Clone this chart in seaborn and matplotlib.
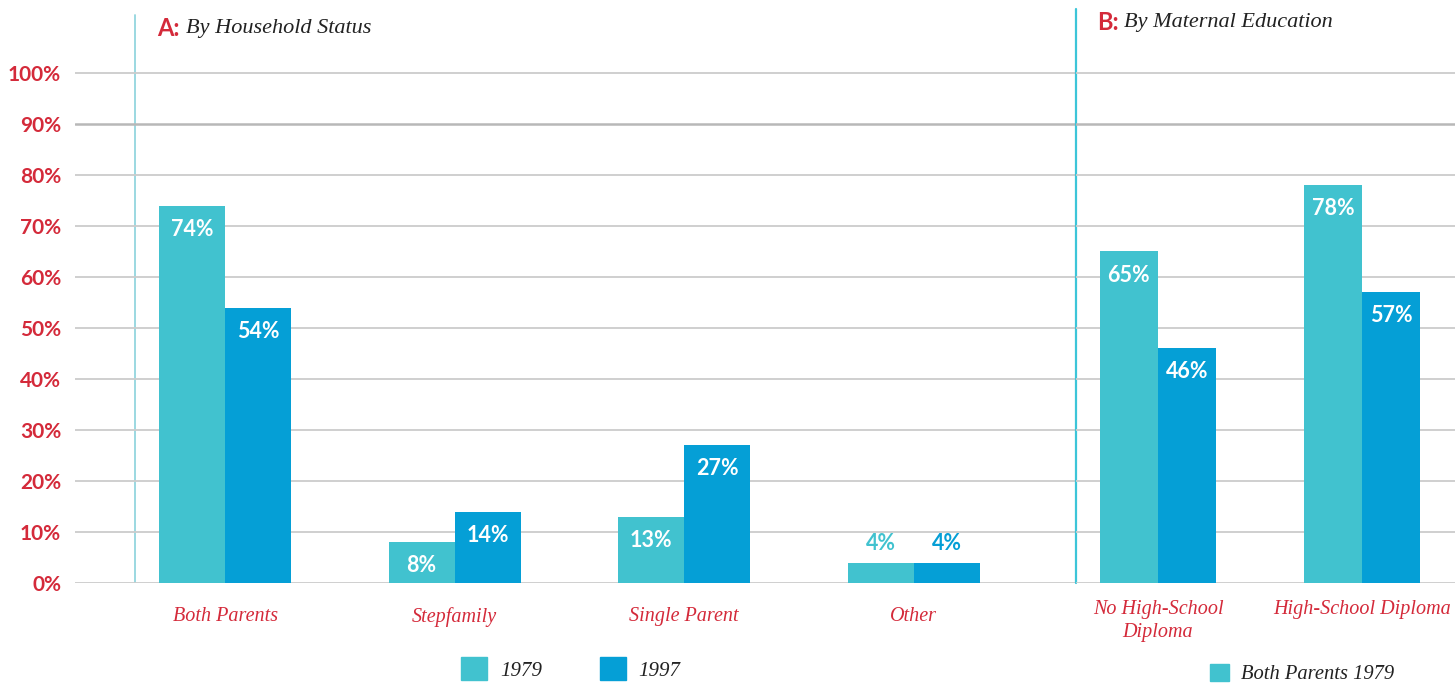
import matplotlib
matplotlib.use('Agg')
import matplotlib.pyplot as plt
import pandas as pd
import seaborn as sns
from matplotlib.patches import Patch

# data
years = ['1979', '1997']
household = ['Both Parents', 'Stepfamily', 'Single Parent', 'Other']
household_1979 = [74, 8, 13, 4]
household_1997 = [54, 14, 27, 4]
education = ['No High-School\nDiploma', 'High-School Diploma']
education_1979 = [65, 78]
education_1997 = [46, 57]
y_ticks = [0, 10, 20, 30, 40, 50, 60, 70, 80, 90, 100]

RED = '#d42a3a'
C79 = '#41c2cf'
C97 = '#059fd6'
GRID = '#cccccc'

sns.set_style('white')
plt.rcParams['font.family'] = ['Lato', 'DejaVu Sans']
SERIF = ['Liberation Serif', 'DejaVu Serif']


def long_df(groups, a, b):
    return pd.DataFrame({
        'group': groups * 2,
        'year': [years[0]] * len(groups) + [years[1]] * len(groups),
        'value': a + b,
    })


df_a = long_df(household, household_1979, household_1997)
df_b = long_df(education, education_1979, education_1997)

fig = plt.figure(figsize=(14.55, 6.83), dpi=100)
W, H = 1455, 683
bottom = 1 - 583 / H
height = (583 - 4) / H
ax_a = fig.add_axes([75 / W, bottom, (1076 - 75) / W, height])
ax_b = fig.add_axes([1076 / W, bottom, (1455 - 1076) / W, height])


def draw_panel(ax, df, width, xlim, xpad):
    sns.barplot(data=df, x='group', y='value', hue='year', hue_order=years,
                palette=[C79, C97], width=width, gap=0, saturation=1,
                linewidth=0, legend=False, ax=ax)
    ax.set_xlim(*xlim)
    ax.set_ylim(0, 113.5)
    ax.set_yticks(y_ticks)
    ax.yaxis.grid(True, color=GRID, lw=1.3)
    ax.set_axisbelow(True)
    gl = ax.get_ygridlines()
    gl[9].set_color('#b8b8b8')
    gl[9].set_linewidth(1.8)
    for s in ax.spines.values():
        s.set_visible(False)
    ax.set_xlabel('')
    ax.set_ylabel('')
    ax.tick_params(axis='both', length=0)
    ax.tick_params(axis='x', pad=xpad)
    for lab in ax.get_xticklabels():
        lab.set_family(SERIF)
        lab.set_style('italic')
        lab.set_color(RED)
        lab.set_fontsize(14.5)
        lab.set_linespacing(1.3)
    # value labels
    for cont, col in zip(ax.containers, [C79, C97]):
        for bar in cont:
            v = bar.get_height()
            x = bar.get_x() + bar.get_width() / 2
            if v < 6:
                ax.annotate(f'{v:.0f}%', (x, v), xytext=(0, 14), textcoords='offset points',
                            ha='center', va='center', color=col,
                            fontsize=15.5, fontweight='bold')
            else:
                ax.annotate(f'{v:.0f}%', (x, v), xytext=(0, -17), textcoords='offset points',
                            ha='center', va='center', color='white',
                            fontsize=15.5, fontweight='bold')


draw_panel(ax_a, df_a, 0.575, (-0.654, 3.708), 17)
draw_panel(ax_b, df_b, 0.57, (-0.402, 1.456), 12)

ax_a.set_yticklabels([f'{t}%' for t in y_ticks])
ax_a.tick_params(axis='y', pad=10)
for lab in ax_a.get_yticklabels():
    lab.set_color(RED)
    lab.set_fontsize(15)
    lab.set_fontweight('bold')
ax_b.set_yticklabels([])

# panel separators
ax_a.axvline(-0.392, ymin=0, ymax=(583 - 15) / 579, color='#93d5de', lw=1.3, zorder=0)
ax_b.axvline(-0.402, ymin=0, ymax=(583 - 9) / 579, color='#3cc5d8', lw=1.6, zorder=0, clip_on=False)

# panel titles
fig.text(157 / W, 1 - 28 / H, 'A:', color=RED, fontsize=17, fontweight='bold', va='center')
fig.text(186 / W, 1 - 28 / H, 'By Household Status', family=SERIF, style='italic',
         fontsize=16, color='#222222', va='center')
fig.text(1097 / W, 1 - 22 / H, 'B:', color=RED, fontsize=17, fontweight='bold', va='center')
fig.text(1124 / W, 1 - 22 / H, 'By Maternal Education', family=SERIF, style='italic',
         fontsize=16, color='#222222', va='center')

# legends
leg_a = fig.legend(handles=[Patch(color=C79, label=years[0]), Patch(color=C97, label=years[1])],
                   loc='center', bbox_to_anchor=(571 / W, 1 - 669 / H), ncol=2, frameon=False,
                   handlelength=1.25, handleheight=1.25, handletextpad=0.6, columnspacing=2.8,
                   prop={'family': SERIF, 'style': 'italic', 'size': 15})
for t in leg_a.get_texts():
    t.set_color('#222222')
leg_b = fig.legend(handles=[Patch(color=C79, label='Both Parents 1979')],
                   loc='center', bbox_to_anchor=(1302 / W, 1 - 674 / H), frameon=False,
                   handlelength=0.9, handleheight=0.9, handletextpad=0.6,
                   prop={'family': SERIF, 'style': 'italic', 'size': 14.8})
for t in leg_b.get_texts():
    t.set_color('#222222')

fig.savefig('out.png', dpi=100)
